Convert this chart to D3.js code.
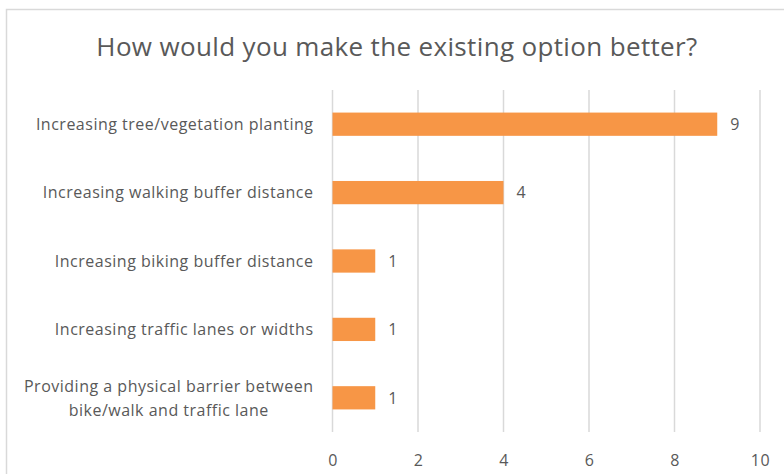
<!DOCTYPE html>
<html><head><meta charset="utf-8">
<script src="https://cdn.jsdelivr.net/npm/d3@7/dist/d3.min.js"></script>
<style>body{margin:0;background:#fff}svg{display:block}</style>
</head><body>
<svg id="c" width="784" height="474"></svg>
<script>
const categories = [
  "Increasing tree/vegetation planting",
  "Increasing walking buffer distance",
  "Increasing biking buffer distance",
  "Increasing traffic lanes or widths",
  "Providing a physical barrier between\nbike/walk and traffic lane"
];
const values = [9, 4, 1, 1, 1];
const tickValues = [0, 2, 4, 6, 8, 10];
const title = "How would you make the existing option better?";

const svg = d3.select("#c");
const font = "'Open Sans', sans-serif";
const textColor = "#595959";
const m = {left: 332.5, right: 760, top: 90, bottom: 432};

svg.append("rect").attr("x", 6.5).attr("y", 9.5).attr("width", 900).attr("height", 600)
  .attr("fill", "#fff").attr("stroke", "#d9d9d9").attr("stroke-width", 1.5);

const x = d3.scaleLinear().domain([0, 10]).range([m.left, m.right]);
const y = d3.scaleBand().domain(categories).range([m.top, m.bottom]).paddingInner(0.66).paddingOuter(0.33);

// gridlines
svg.append("g").selectAll("line").data(tickValues).join("line")
  .attr("x1", d => x(d)).attr("x2", d => x(d))
  .attr("y1", m.top).attr("y2", m.bottom)
  .attr("stroke", "#d9d9d9").attr("stroke-width", 1.5);

// x axis labels
const xAxis = d3.axisBottom(x).tickValues(tickValues).tickSize(0).tickPadding(0);
const gx = svg.append("g").attr("transform", `translate(0,${m.bottom})`).call(xAxis);
gx.select(".domain").remove();
gx.selectAll("text").attr("font-family", font).attr("font-size", 16).attr("fill", textColor)
  .attr("letter-spacing", 0.6).attr("dy", null).attr("y", 34);

// bars
svg.append("g").selectAll("rect").data(values).join("rect")
  .attr("x", x(0)).attr("y", (d, i) => y(categories[i]))
  .attr("width", d => x(d) - x(0)).attr("height", y.bandwidth())
  .attr("fill", "#F79646");

// value labels
svg.append("g").selectAll("text").data(values).join("text")
  .attr("x", d => x(d) + 13).attr("y", (d, i) => y(categories[i]) + y.bandwidth() / 2)
  .attr("dy", "0.36em").attr("font-family", font).attr("font-size", 16).attr("fill", textColor)
  .text(d => d);

// category labels
const gy = svg.append("g");
categories.forEach(c => {
  const lines = c.split("\n");
  const cy = y(c) + y.bandwidth() / 2;
  const lh = 24;
  const t = gy.append("text").attr("text-anchor", "middle").attr("font-family", font)
    .attr("font-size", 16).attr("letter-spacing", 0.5).attr("fill", textColor);
  lines.forEach((l, i) => {
    t.append("tspan").attr("x", 0).attr("y", cy + (i - (lines.length - 1) / 2) * lh).attr("dy", "0.36em").text(l);
  });
  const w = t.node().getBBox().width;
  t.attr("transform", `translate(${313.5 - w / 2},0)`);
});

svg.append("text").attr("x", 397).attr("y", 55.5).attr("text-anchor", "middle")
  .attr("font-family", font).attr("font-size", 26).attr("letter-spacing", 0.35).attr("fill", textColor)
  .text(title);
</script>
</body></html>
